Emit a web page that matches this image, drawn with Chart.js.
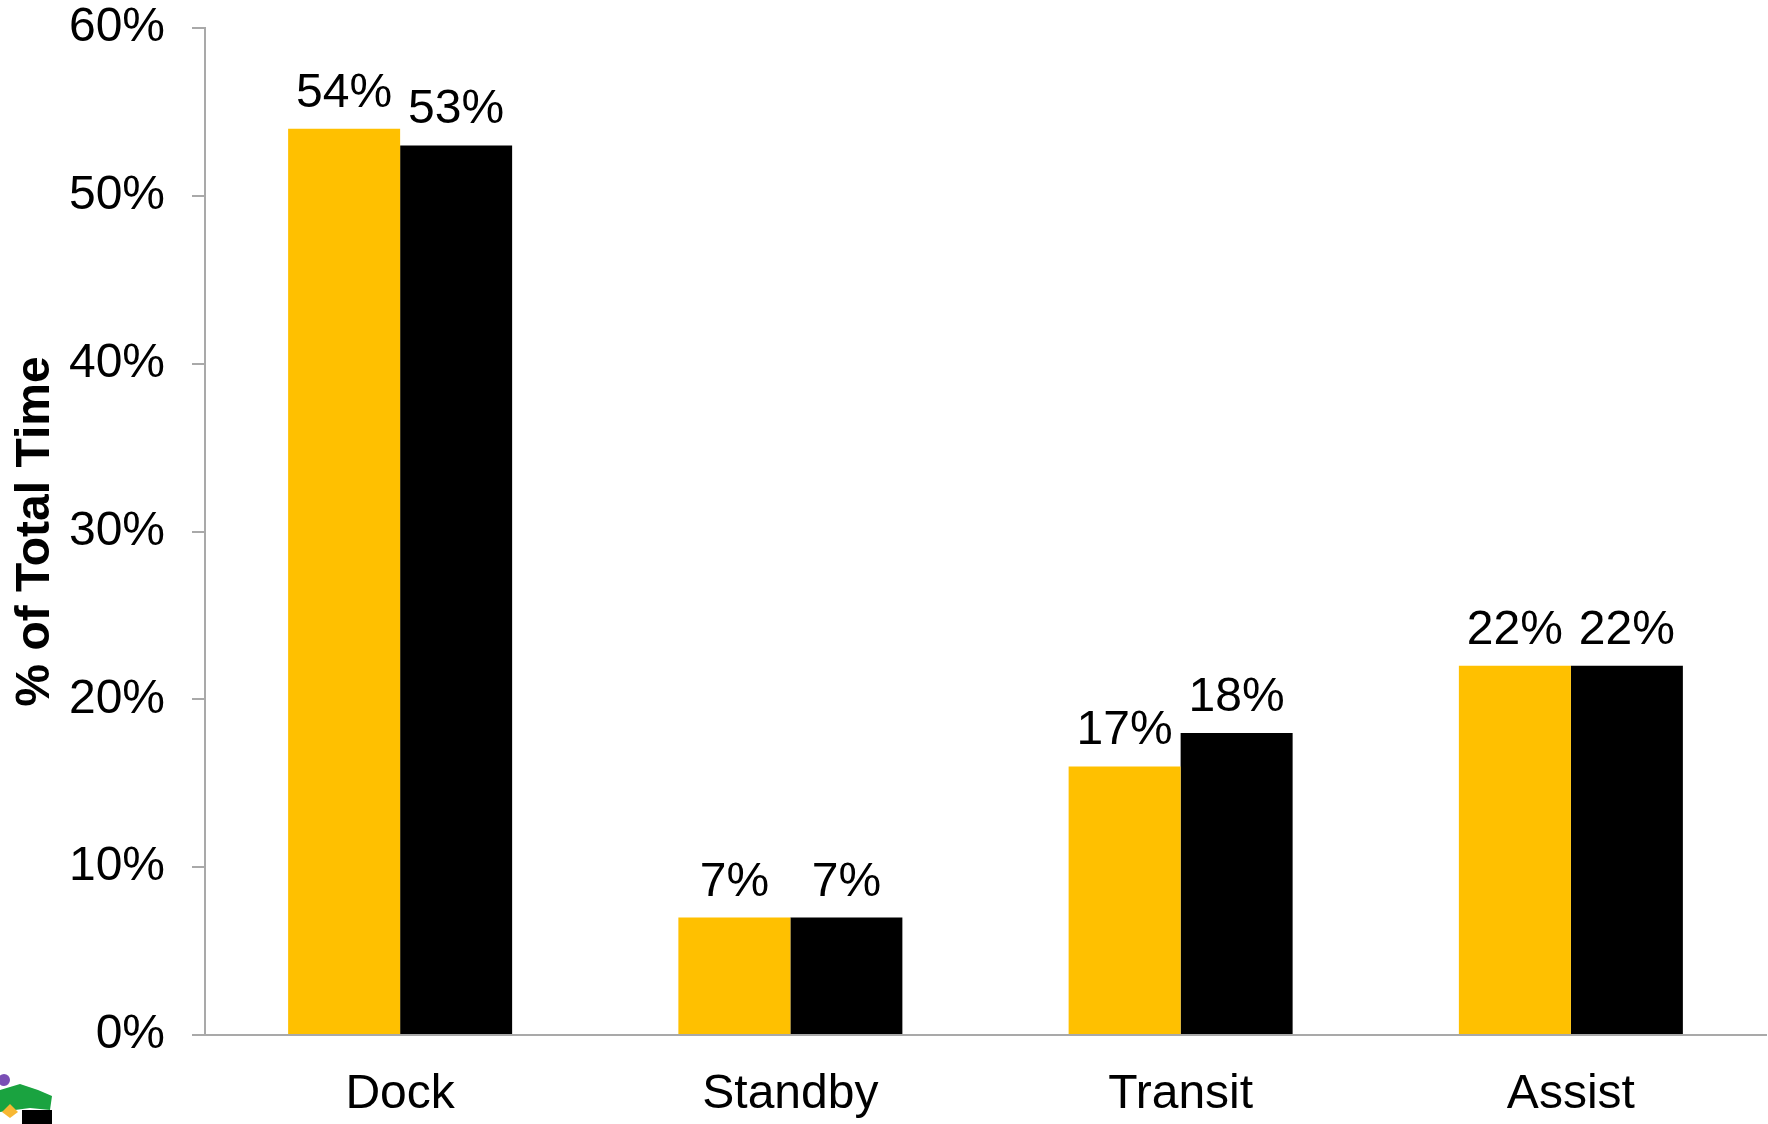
<!DOCTYPE html>
<html>
<head>
<meta charset="utf-8">
<script src="https://cdn.jsdelivr.net/npm/chart.js@4/dist/chart.umd.min.js"></script>
<style>
  html, body { margin: 0; padding: 0; background: #ffffff; }
  #wrap { width: 1768px; height: 1124px; }
</style>
</head>
<body>
<div id="wrap"><canvas id="c" width="1768" height="1124"></canvas></div>
<script>
// ---- data ----
const categories = ["Dock", "Standby", "Transit", "Assist"];
const seriesA = [54, 7, 16, 22];          // yellow bars (as drawn)
const seriesB = [53, 7, 18, 22];          // black bars
const labelsA = ["54%", "7%", "17%", "22%"];   // printed data labels
const labelsB = ["53%", "7%", "18%", "22%"];
const yTicks = [0, 10, 20, 30, 40, 50, 60];
const yTitle = "% of Total Time";

const AXIS = "#A9A9A9";
const FONT = "'Liberation Sans', Arial, sans-serif";

const dataLabels = {
  id: "dataLabels",
  afterDatasetsDraw(chart) {
    const ctx = chart.ctx;
    const texts = [labelsA, labelsB];
    ctx.save();
    ctx.font = "48px " + FONT;
    ctx.fillStyle = "#000000";
    ctx.textAlign = "center";
    ctx.textBaseline = "alphabetic";
    chart.data.datasets.forEach((ds, di) => {
      const meta = chart.getDatasetMeta(di);
      meta.data.forEach((el, i) => {
        ctx.fillText(texts[di][i], el.x, el.y - 22);
      });
    });
    ctx.restore();
  }
};

const logo = {
  id: "logo",
  afterDraw(chart) {
    const ctx = chart.ctx;
    ctx.save();
    ctx.fillStyle = "#7a4fb5";
    ctx.beginPath(); ctx.arc(4, 1080, 6, 0, Math.PI * 2); ctx.fill();
    ctx.fillStyle = "#1aa340";
    ctx.beginPath();
    ctx.moveTo(0, 1090); ctx.lineTo(20, 1084); ctx.lineTo(38, 1090);
    ctx.lineTo(52, 1096); ctx.lineTo(50, 1110); ctx.lineTo(30, 1108);
    ctx.lineTo(0, 1112); ctx.closePath(); ctx.fill();
    ctx.fillStyle = "#f7b733";
    ctx.beginPath(); ctx.moveTo(2, 1112); ctx.lineTo(10, 1104); ctx.lineTo(18, 1112); ctx.lineTo(10, 1118); ctx.closePath(); ctx.fill();
    ctx.fillStyle = "#000000";
    ctx.fillRect(22, 1110, 30, 14);
    ctx.restore();
  }
};

new Chart(document.getElementById("c"), {
  type: "bar",
  data: {
    labels: categories,
    datasets: [
      { label: "A", data: seriesA, backgroundColor: "#FFC000", borderWidth: 0 },
      { label: "B", data: seriesB, backgroundColor: "#000000", borderWidth: 0 }
    ]
  },
  options: {
    responsive: false,
    animation: false,
    devicePixelRatio: 1,
    layout: { padding: { top: 0, right: 2, left: 0, bottom: 0 } },
    datasets: { bar: { barPercentage: 1.0, categoryPercentage: 0.574 } },
    plugins: { legend: { display: false }, tooltip: { enabled: false } },
    scales: {
      x: {
        grid: { display: true, drawOnChartArea: false, drawTicks: false },
        border: { display: true, color: AXIS, width: 2 },
        ticks: { color: "#000", font: { family: FONT, size: 48 }, padding: 31, maxRotation: 0 },
        afterFit(scale) { scale.height = 89; }
      },
      y: {
        min: 0, max: 60,
        afterBuildTicks(scale) { scale.ticks = yTicks.map(v => ({ value: v })); },
        grid: { display: true, drawOnChartArea: false, drawTicks: true, tickLength: 13, color: AXIS, lineWidth: 2 },
        border: { display: true, color: AXIS, width: 2 },
        ticks: { color: "#000", font: { family: FONT, size: 48 }, padding: 27, callback: v => v + "%" },
        title: { display: true, text: yTitle, color: "#000", font: { family: FONT, size: 48, weight: "bold" }, padding: { top: 7, bottom: 0 } },
        afterFit(scale) { scale.width = 205; scale.paddingTop = 28; scale.paddingBottom = 0; }
      }
    }
  },
  plugins: [dataLabels, logo]
});
</script>
</body>
</html>
